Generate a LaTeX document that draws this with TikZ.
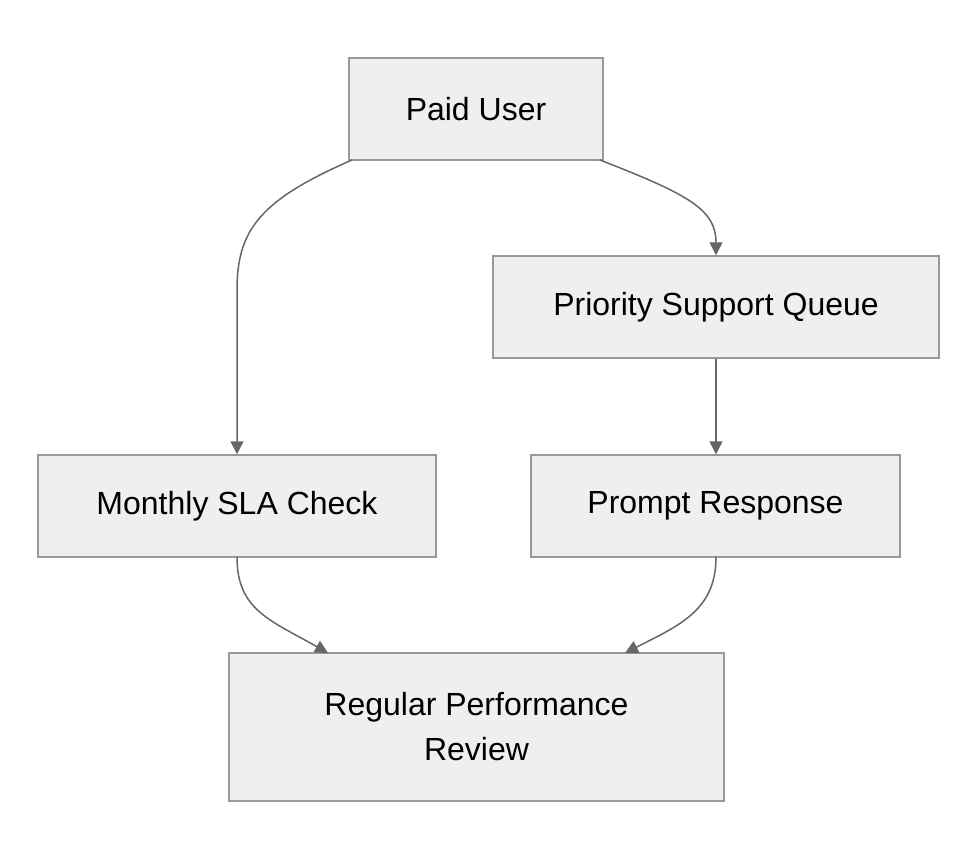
\documentclass[tikz,border=0pt]{standalone}
\usepackage{fontspec}
\setmainfont{Liberation Sans}
\usetikzlibrary{arrows.meta}
\definecolor{boxfill}{HTML}{EFEFEF}
\definecolor{boxline}{HTML}{999999}
\definecolor{edgecol}{HTML}{666666}
\begin{document}
\begin{tikzpicture}[x=1pt,y=-1pt,
  box/.style={draw=boxline,fill=boxfill,line width=1.5pt,inner sep=0pt,
    font=\fontsize{32}{45}\selectfont,align=center},
  edge/.style={draw=edgecol,line width=1.5pt,-{Triangle[length=13pt,width=13pt]}}]
\useasboundingbox (0,0) rectangle (978,860);
\fill[white] (0,0) rectangle (978,860);
\node[box,minimum width=254pt,minimum height=102pt] (paid) at (476,109) {Paid User};
\node[box,minimum width=446pt,minimum height=102pt] (prio) at (716,307) {Priority Support Queue};
\node[box,minimum width=398pt,minimum height=102pt] (sla) at (237,506) {Monthly SLA Check};
\node[box,minimum width=369pt,minimum height=102pt] (prompt) at (715.5,506) {Prompt Response};
\node[box,minimum width=495pt,minimum height=148pt] (rev) at (476.5,727) {Regular Performance\\Review};
\coordinate (p1) at (352,160);
\coordinate (p2) at (600,160);
\draw[edge] (p1) .. controls (260,200) and (237,230) .. (237,290) -- (sla.north -| 237,0);
\draw[edge] (p2) .. controls (690,195) and (716,210) .. (prio.north -| 716,0);
\draw[edge] (prio.south -| 716,0) -- (prompt.north -| 716,0);
\coordinate (s1) at (237,557);
\coordinate (s2) at (716,557);
\draw[edge] (s1) .. controls (237,610) and (270,620) .. (328,653);
\draw[edge] (s2) .. controls (716,610) and (680,625) .. (625,653);
\end{tikzpicture}
\end{document}
